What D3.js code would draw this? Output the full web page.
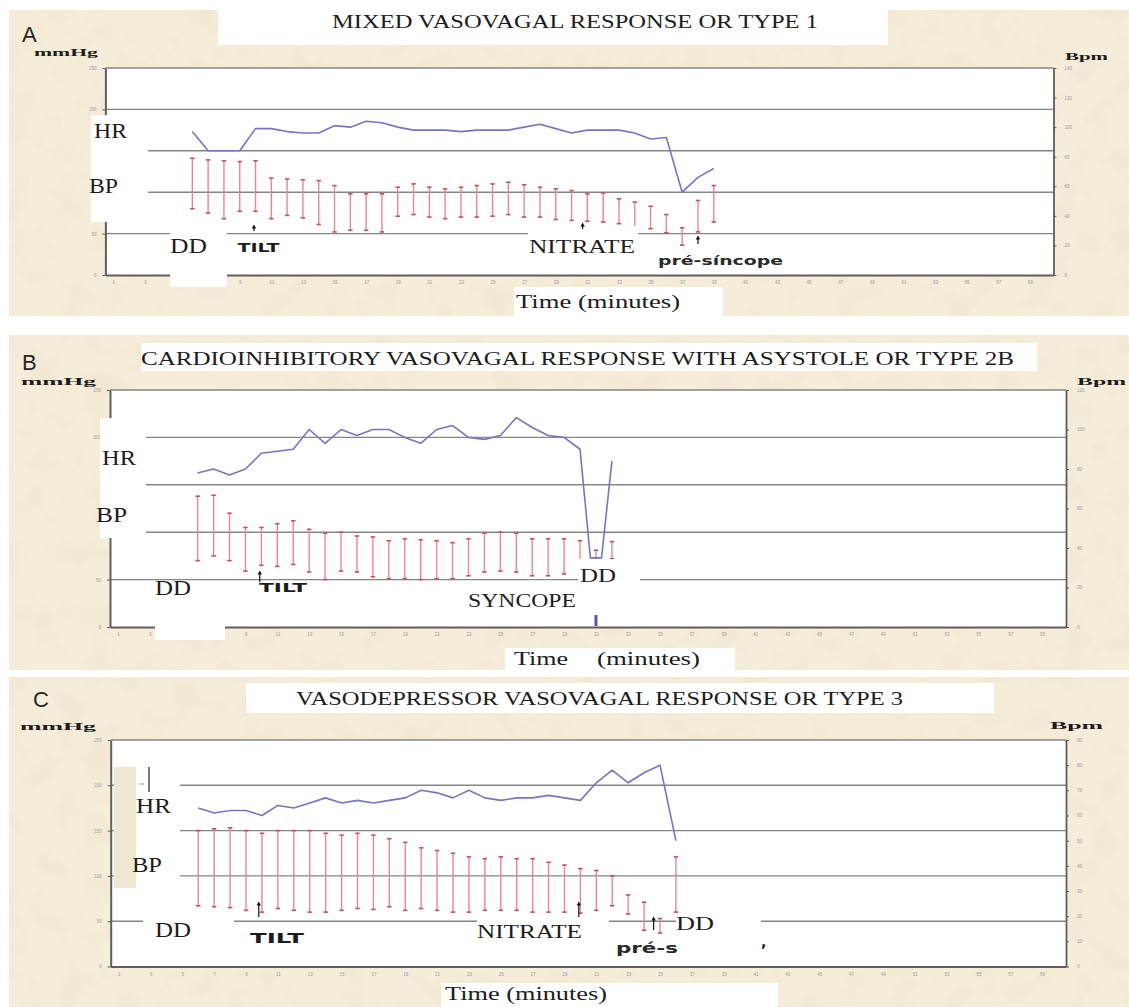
<!DOCTYPE html>
<html>
<head>
<meta charset="utf-8">
<script src="https://cdn.jsdelivr.net/npm/d3@7"></script>
<style>
  body { margin: 0; background: #fff; }
  svg { display: block; }
</style>
</head>
<body>
<svg id="chart" width="1129" height="1007"></svg>
<script>
// ---- time axis: one category per minute, every other minute labelled ----
const minuteTicks = d3.range(1, 60, 2);
const mmHgTicks = [0, 50, 100, 150, 200, 250];
const mmHgGrid = [50, 100, 150, 200];

// ---- A: mixed vasovagal response (type 1) ----
const titleA = "MIXED VASOVAGAL RESPONSE OR TYPE 1";
const bpMinutesA = d3.range(6, 40);
const systolicA  = [141,139,138,137,138,117,116,115,114,108, 98, 98, 98,106,110,106,104,106,108,110,112,109,106,104,102, 98, 99, 92, 88, 83, 73, 57, 90,108];
const diastolicA = [ 80, 75, 68, 77, 77, 68, 72, 69, 61, 52, 54, 54, 52, 71, 73, 70, 68, 70, 70, 71, 73, 70, 70, 67, 66, 65, 64, 62, 55, 56, 51, 36, 52, 64];
const hrMinutesA = d3.range(6, 40);
const hrA        = [ 97, 84, 84, 84, 99, 99, 97, 96, 96,101,100,104,103,100, 98, 98, 98, 97, 98, 98, 98,100,102, 99, 96, 98, 98, 98, 96, 92, 93, 56, 66, 72];
const bpmTicksA  = d3.range(0, 141, 20);

// ---- B: cardioinhibitory response with asystole (type 2B) ----
const titleB = "CARDIOINHIBITORY VASOVAGAL RESPONSE WITH ASYSTOLE OR TYPE 2B";
const bpMinutesB = d3.range(6, 33);
const systolicB  = [138,139,120,105,105,109,112,103, 99,100, 96, 95, 91, 93, 92, 91, 89, 93, 99,100, 99, 93, 93, 93, 91, 81, 90];
const diastolicB = [ 70, 75, 70, 59, 65, 64, 66, 58, 50, 59, 58, 53, 51, 51, 50, 51, 51, 54, 58, 59, 58, 54, 54, 56, 55, 73, 72];
const hrMinutesB = d3.range(6, 31).concat([30.65, 31.35, 32]);
const hrB        = [ 78, 80, 77, 80, 88, 89, 90,100, 93,100, 97,100,100, 96, 93,100,102, 96, 95, 97,106,101, 97, 96, 90, 35, 35, 84];
const bpmTicksB  = d3.range(0, 121, 20);

// ---- C: vasodepressor response (type 3) ----
const titleC = "VASODEPRESSOR VASOVAGAL RESPONSE OR TYPE 3";
const bpMinutesC = d3.range(6, 37);
const systolicC  = [150,152,153,150,147,150,150,150,147,145,147,145,141,137,131,128,125,121,119,121,119,119,115,112,108,106,100, 79, 71, 53,121];
const diastolicC = [ 67, 66, 65, 62, 60, 64, 62, 60, 60, 62, 64, 63, 66, 62, 64, 62, 60, 60, 62, 62, 62, 60, 60, 60, 59, 62, 67, 58, 40, 37, 60];
const hrMinutesC = d3.range(6, 37);
const hrC        = [ 63, 61, 62, 62, 60, 64, 63, 65, 67, 65, 66, 65, 66, 67, 70, 69, 67, 70, 67, 66, 67, 67, 68, 67, 66, 73, 78, 73, 77, 80, 50];
const bpmTicksC  = d3.range(0, 91, 10);

// ---- colours and fonts ----
const PAPER = "#f5ecd9";
const GRID = "#858585";
const AXIS = "#5e5e5e";
const HR_COLOR = "#7775c2";
const BP_COLOR = "#e38a90";
const CAP_COLOR = "#c4505c";
const SERIF = "'Liberation Serif', 'DejaVu Serif', serif";
const SANS_BOLD = "'DejaVu Sans', 'Liberation Sans', sans-serif";

const svg = d3.select("#chart");

// parchment mottling
const defs = svg.append("defs");
const f = defs.append("filter").attr("id", "paper").attr("x", 0).attr("y", 0).attr("width", "100%").attr("height", "100%");
f.append("feTurbulence").attr("type", "fractalNoise").attr("baseFrequency", "0.035").attr("numOctaves", 3).attr("seed", 7);
f.append("feColorMatrix").attr("type", "matrix")
  .attr("values", "0 0 0 0 0.80  0 0 0 0 0.70  0 0 0 0 0.52  1.3 0 0 0 -0.62");

function text(g, str, o) {
  const t = g.append("text")
    .attr("x", o.x).attr("y", o.y)
    .attr("font-family", o.font || SERIF)
    .attr("font-size", o.size || 19)
    .attr("font-weight", o.weight || "normal")
    .attr("fill", o.fill || "#1c1c1c")
    .text(str);
  if (o.len) t.attr("textLength", o.len).attr("lengthAdjust", "spacingAndGlyphs");
  return t;
}

function box(g, x0, y0, x1, y1, fill) {
  g.append("rect").attr("x", x0).attr("y", y0).attr("width", x1 - x0).attr("height", y1 - y0)
    .attr("fill", fill || "#fff");
}

function arrow(g, x, yTop, yBot) {
  g.append("line").attr("x1", x).attr("x2", x).attr("y1", yTop + 2).attr("y2", yBot)
    .attr("stroke", "#111").attr("stroke-width", 1.2);
  g.append("path").attr("d", `M${x - 2.2},${yTop + 3.5} L${x},${yTop - 0.5} L${x + 2.2},${yTop + 3.5} Z`)
    .attr("fill", "#111");
}

function drawPanel(p) {
  const g = svg.append("g");

  // paper background
  box(g, p.paper[0], p.paper[1], p.paper[2], p.paper[3], PAPER);
  g.append("rect").attr("x", p.paper[0]).attr("y", p.paper[1])
    .attr("width", p.paper[2] - p.paper[0]).attr("height", p.paper[3] - p.paper[1])
    .attr("filter", "url(#paper)").attr("opacity", 0.55);

  const x = d3.scaleLinear().domain([0.5, 60.5]).range([p.plot.l, p.plot.r]);
  const yL = d3.scaleLinear().domain([0, 250]).range([p.plot.b, p.plot.t]);
  const yR = d3.scaleLinear().domain([0, d3.max(p.bpmTicks)]).range([p.plot.b, p.plot.t]);

  // plot area
  box(g, p.plot.l, p.plot.t, p.plot.r, p.plot.b, "#fff");

  // horizontal grid
  g.append("g").selectAll("line").data(mmHgGrid).join("line")
    .attr("x1", p.plot.l).attr("x2", p.plot.r)
    .attr("y1", d => yL(d)).attr("y2", d => yL(d))
    .attr("stroke", GRID).attr("stroke-width", 1.4);

  // frame top
  g.append("line").attr("x1", p.plot.l).attr("x2", p.plot.r).attr("y1", p.plot.t).attr("y2", p.plot.t)
    .attr("stroke", GRID).attr("stroke-width", 1.4);

  const styleAxis = (sel, w) => {
    sel.select(".domain").attr("stroke", AXIS).attr("stroke-width", w);
    sel.selectAll(".tick line").attr("stroke", AXIS).attr("stroke-width", 1);
    sel.selectAll(".tick text").attr("fill", "#9a9a9a").attr("font-size", 4.5)
      .attr("font-family", "'Liberation Sans', sans-serif");
  };

  // left labels that sit under the HR/BP label card are not printed
  const hidden = p.hiddenLeft || [];
  g.append("g").attr("transform", `translate(${p.plot.l},0)`)
    .call(d3.axisLeft(yL).tickValues(mmHgTicks).tickSize(3).tickSizeOuter(0).tickPadding(6)
      .tickFormat(d => hidden.includes(d) ? "" : d))
    .call(s => styleAxis(s, 2));
  g.append("g").attr("transform", `translate(${p.plot.r},0)`)
    .call(d3.axisRight(yR).tickValues(p.bpmTicks).tickSize(3).tickSizeOuter(0).tickPadding(8))
    .call(s => styleAxis(s, 1.8));
  g.append("g").attr("transform", `translate(0,${p.plot.b})`)
    .call(d3.axisBottom(x).tickValues(minuteTicks).tickSize(0).tickSizeOuter(0).tickPadding(6))
    .call(s => styleAxis(s, 2.2));

  // blood pressure: systolic to diastolic range per minute
  const bp = p.bpMinutes.map((m, i) => ({ m, s: p.sys[i], d: p.dia[i] }));
  const bars = g.append("g");
  bars.selectAll("line.bp").data(bp).join("line").attr("class", "bp")
    .attr("x1", d => x(d.m)).attr("x2", d => x(d.m))
    .attr("y1", d => yL(d.s)).attr("y2", d => yL(d.d))
    .attr("stroke", BP_COLOR).attr("stroke-width", 1.4);
  ["s", "d"].forEach(k => {
    bars.selectAll("line.cap" + k).data(bp).join("line").attr("class", "cap" + k)
      .attr("x1", d => x(d.m) - 2.2).attr("x2", d => x(d.m) + 2.2)
      .attr("y1", d => yL(d[k])).attr("y2", d => yL(d[k]))
      .attr("stroke", CAP_COLOR).attr("stroke-width", 1.6);
  });

  // heart rate
  const hr = p.hrMinutes.map((m, i) => ({ m, v: p.hr[i] }));
  g.append("path").datum(hr)
    .attr("d", d3.line().x(d => x(d.m)).y(d => yR(d.v)))
    .attr("fill", "none").attr("stroke", HR_COLOR).attr("stroke-width", 1.6)
    .attr("stroke-linejoin", "round");

  p.annotate(g, x, yL);

  // panel letter, units, title
  text(g, p.letter, { x: p.letterPos[0], y: p.letterPos[1], size: 22, font: "'Liberation Sans', 'Open Sans', sans-serif", fill: "#262626" });
  text(g, "mmHg", { x: p.mmHg[0], y: p.mmHg[1], size: 11, weight: "bold", len: p.mmHg[2] });
  text(g, "Bpm", { x: p.bpm[0], y: p.bpm[1], size: 11, weight: "bold", len: p.bpm[2] });
  box(g, p.titleBox[0], p.titleBox[1], p.titleBox[2], p.titleBox[3]);
  text(g, p.title, { x: p.titlePos[0], y: p.titlePos[1], size: 18, len: p.titlePos[2] });
}

// ---------- Panel A ----------
drawPanel({
  letter: "A", letterPos: [22, 42], mmHg: [34, 56, 64], bpm: [1065, 60, 43],
  title: titleA, titleBox: [218, 0, 888, 45], titlePos: [332, 28, 486],
  paper: [9, 10, 1129, 316],
  plot: { l: 105.4, r: 1053.5, t: 68, b: 275 },
  hiddenLeft: [100, 150],
  bpmTicks: bpmTicksA,
  bpMinutes: bpMinutesA, sys: systolicA, dia: diastolicA,
  hrMinutes: hrMinutesA, hr: hrA,
  annotate(g, x) {
    box(g, 91, 115, 148, 222);
    box(g, 170, 223, 227, 287);
    box(g, 528, 226, 638, 262);
    box(g, 514, 287, 723, 317);
    text(g, "HR", { x: 94, y: 138, size: 20, len: 33 });
    text(g, "BP", { x: 89, y: 193, size: 20, len: 29 });
    text(g, "DD", { x: 170, y: 253, size: 20, len: 37 });
    text(g, "TILT", { x: 237.5, y: 252, size: 12, weight: "bold", font: SANS_BOLD, len: 42 });
    text(g, "NITRATE", { x: 529, y: 253, size: 19, len: 106 });
    text(g, "pré-síncope", { x: 658, y: 265, size: 13, weight: "bold", font: SANS_BOLD, len: 125, fill: "#2a2a2a" });
    text(g, "Time (minutes)", { x: 516, y: 308, size: 19, len: 164 });
    arrow(g, x(9.9), 225, 231);
    arrow(g, x(30.7), 223, 229);
    arrow(g, x(38), 236, 244);
  }
});

// ---------- Panel B ----------
drawPanel({
  letter: "B", letterPos: [22, 370], mmHg: [21, 385, 75], bpm: [1077, 385, 49],
  title: titleB, titleBox: [141, 343, 1037, 371], titlePos: [141, 365, 873],
  paper: [9, 335, 1129, 670],
  plot: { l: 110, r: 1066, t: 390, b: 627 },
  hiddenLeft: [100, 150],
  bpmTicks: bpmTicksB,
  bpMinutes: bpMinutesB, sys: systolicB, dia: diastolicB,
  hrMinutes: hrMinutesB, hr: hrB,
  annotate(g, x) {
    box(g, 100, 418, 146, 538);
    box(g, 155, 582, 225, 640);
    box(g, 578, 559, 640, 590);
    box(g, 505, 648, 735, 672);
    text(g, "HR", { x: 102, y: 465, size: 20, len: 34 });
    text(g, "BP", { x: 96, y: 522, size: 20, len: 31 });
    text(g, "DD", { x: 155, y: 595, size: 20, len: 36 });
    text(g, "TILT", { x: 259, y: 592, size: 13, weight: "bold", font: SANS_BOLD, len: 48 });
    text(g, "SYNCOPE", { x: 468, y: 607, size: 19, len: 108 });
    text(g, "DD", { x: 580, y: 582, size: 19, len: 36 });
    text(g, "Time", { x: 514, y: 665, size: 19, len: 54 });
    text(g, "(minutes)", { x: 597, y: 665, size: 19, len: 103 });
    arrow(g, x(9.9), 571, 582);
    // asystole marker on the time axis
    g.append("line").attr("x1", x(31)).attr("x2", x(31)).attr("y1", 615).attr("y2", 626)
      .attr("stroke", "#5656b0").attr("stroke-width", 3);
  }
});

// ---------- Panel C ----------
drawPanel({
  letter: "C", letterPos: [33, 707], mmHg: [20, 730, 76], bpm: [1050, 729, 53],
  title: titleC, titleBox: [246, 683, 994, 713], titlePos: [296, 705, 607],
  paper: [9, 677, 1129, 1007],
  plot: { l: 110.7, r: 1066, t: 740, b: 966.5 },
  bpmTicks: bpmTicksC,
  bpMinutes: bpMinutesC, sys: systolicC, dia: diastolicC,
  hrMinutes: hrMinutesC, hr: hrC,
  annotate(g, x) {
    box(g, 115, 765, 180, 900);
    box(g, 114, 767, 136, 888, "#f1e8d4");
    g.append("line").attr("x1", 149).attr("x2", 149).attr("y1", 767).attr("y2", 792)
      .attr("stroke", "#333").attr("stroke-width", 1.3);
    g.append("line").attr("x1", 139).attr("x2", 144).attr("y1", 784).attr("y2", 784)
      .attr("stroke", "#999").attr("stroke-width", 1);
    box(g, 143, 915, 234, 962);
    box(g, 477, 915, 609, 950);
    box(g, 676, 915, 761, 962);
    box(g, 441, 983, 778, 1007);
    text(g, "HR", { x: 136, y: 813, size: 20, len: 35 });
    text(g, "BP", { x: 132, y: 872, size: 20, len: 30 });
    text(g, "DD", { x: 155, y: 937, size: 20, len: 36 });
    text(g, "TILT", { x: 250, y: 943, size: 14, weight: "bold", font: SANS_BOLD, len: 54 });
    text(g, "NITRATE", { x: 477, y: 938, size: 19, len: 105 });
    text(g, "pré-s", { x: 616, y: 953, size: 14, weight: "bold", font: SANS_BOLD, len: 62, fill: "#2a2a2a" });
    text(g, "DD", { x: 676, y: 930, size: 19, len: 38 });
    text(g, ",", { x: 761, y: 947, size: 14, weight: "bold", font: SANS_BOLD });
    text(g, "Time (minutes)", { x: 445, y: 1000, size: 19, len: 162 });
    arrow(g, x(9.8), 902, 917);
    arrow(g, x(29.9), 902, 917);
    arrow(g, x(34.6), 917, 930);
  }
});
</script>
</body>
</html>
